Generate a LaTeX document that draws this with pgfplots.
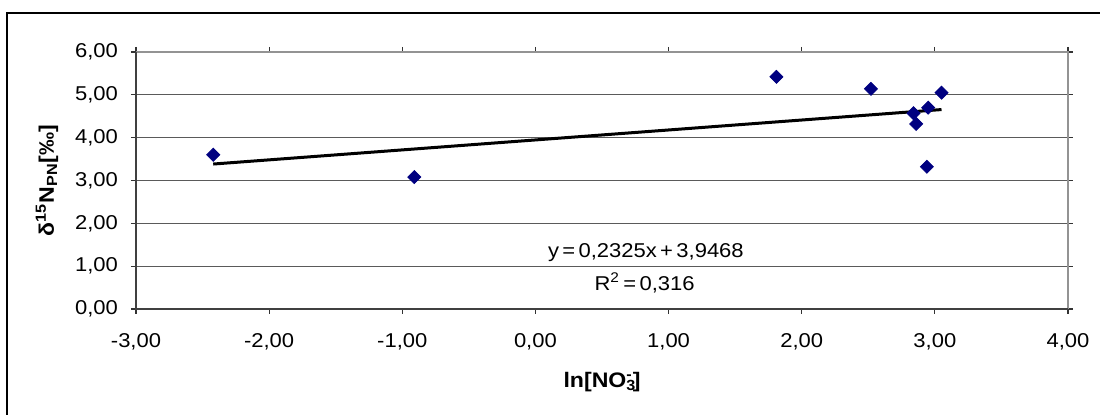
\documentclass[border=0pt]{standalone}
\usepackage{fontspec}
\setmainfont{Liberation Sans}[FakeStretch=1.1]
\usepackage{pgfplots}
\pgfplotsset{compat=1.18}
\definecolor{navyb}{RGB}{0,0,128}
\definecolor{gridc}{RGB}{90,90,90}
\begin{document}
\begin{tikzpicture}
\useasboundingbox (0pt,0pt) rectangle (550pt,207.5pt);
\draw[black,line width=0.6pt] (3.5pt,0pt) -- (3.5pt,201pt) -- (550pt,201pt);
\begin{axis}[
  at={(68pt,53pt)}, anchor=south west,
  scale only axis, width=466pt, height=128.5pt,
  xmin=-3, xmax=4, ymin=0, ymax=6,
  xtick={-3,-2,...,4}, ytick={0,1,...,6},
  axis line style={draw=none},
  tick style={black!80, line width=0.6pt},
  tick align=outside, major tick length=2.5pt,
  ymajorgrids, grid style={gridc, line width=0.5pt},
  /pgf/number format/assume math mode=true,
  /pgf/number format/.cd, fixed, fixed zerofill, precision=2, use comma, 1000 sep={},
  /pgfplots/.cd,
  ticklabel style={font=\fontsize{10}{12}\selectfont},
  xticklabel style={yshift=-6pt},
  yticklabel style={xshift=-3pt},
  xlabel={\textbf{ln[NO\rlap{\textsubscript{3}}\textsuperscript{-}]}},
  xlabel style={font=\fontsize{10.5}{12}\selectfont, at={(axis description cs:0.5,0)}, anchor=center, yshift=-36.5pt},
  ylabel={\textbf{δ\textsuperscript{15}N\textsubscript{PN}[‰]}},
  ylabel style={font=\fontsize{10.5}{12}\selectfont, at={(axis description cs:0,0.5)}, anchor=center, yshift=44.5pt},
  clip=false,
]
\draw[gray!85, line width=0.7pt] (axis cs:-3,6) -- (axis cs:4,6) -- (axis cs:4,0);
\draw[black!75, line width=0.8pt] (axis cs:-3,6) -- (axis cs:-3,0) -- (axis cs:4,0);
\addplot[only marks, mark=square*, mark size=2.3pt, mark options={rotate=45, fill=navyb, draw=navyb}, color=navyb]
 coordinates {
 (-2.42,3.60) (-0.91,3.08) (1.81,5.42) (2.52,5.14) (3.05,5.05)
 (2.84,4.57) (2.95,4.70) (2.86,4.32) (2.94,3.32)
 };
\addplot[black, line width=1.5pt] coordinates {(-2.42,3.384) (3.05,4.656)};
\node[font=\fontsize{10}{12}\selectfont] at (axis cs:0.83,1.31) {y\,=\,0,2325x\,+\,3,9468};
\node[font=\fontsize{10}{12}\selectfont] at (axis cs:0.82,0.61) {R\textsuperscript{2}\,=\,0,316};
\end{axis}
\end{tikzpicture}
\end{document}
